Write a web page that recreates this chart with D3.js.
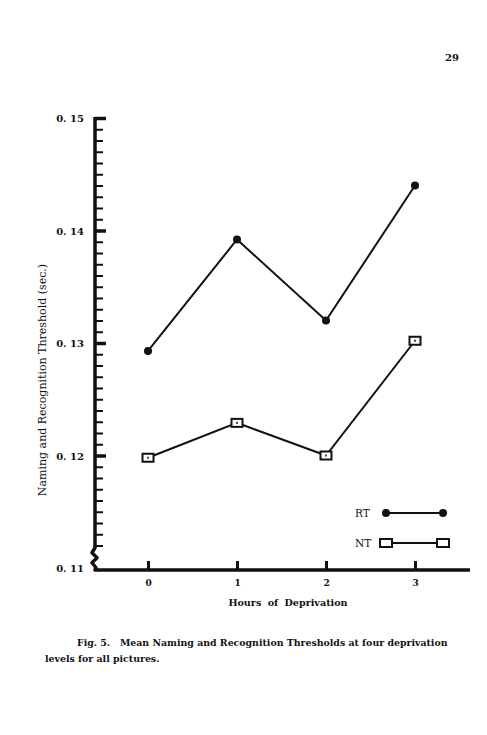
<!DOCTYPE html>
<meta charset="utf-8">
<style>
body { margin: 0; background: white; }
text { font-family: "DejaVu Serif", "Liberation Serif", serif; fill: #111; }
.lbl { font-weight: bold; font-size: 10px; }
</style>
<body>
<script src="https://d3js.org/d3.v7.min.js"></script>
<script>
// data
var hours = [0, 1, 2, 3];
var rtValues = [0.1293, 0.1392, 0.1320, 0.1440];
var ntValues = [0.1198, 0.1229, 0.1200, 0.1302];
var yMajor = [0.11, 0.12, 0.13, 0.14, 0.15];
var yLabels = ["0. 11", "0. 12", "0. 13", "0. 14", "0. 15"];

var width = 487, height = 735;
var axisX = 95, axisY = 570;

var svg = d3.select("body").append("svg")
    .attr("width", width)
    .attr("height", height);

var x = d3.scaleLinear().domain([0, 3]).range([148, 415]);
var y = d3.scaleLinear().domain([0.11, 0.15]).range([568, 118]);

// page number
svg.append("text").attr("x", 452).attr("y", 61)
    .attr("text-anchor", "middle").attr("class", "lbl").text("29");

// y axis line with break near the bottom
var yBreak = y(0.1118);
svg.append("path")
    .attr("d", "M" + axisX + "," + (y(0.15) - 1) + "L" + axisX + "," + yBreak +
      "L" + (axisX - 3) + "," + (yBreak + 5) + "L" + (axisX + 2) + "," + (yBreak + 10) +
      "L" + (axisX - 3) + "," + (yBreak + 15) + "L" + (axisX + 1) + "," + (yBreak + 20) +
      "L" + axisX + "," + axisY + "L470," + axisY)
    .attr("fill", "none").attr("stroke", "#111").attr("stroke-width", 3.5)
    .attr("stroke-linejoin", "round");

// minor ticks
var minor = d3.range(112, 150).map(function(d) { return d / 1000; })
    .filter(function(d) { return yMajor.indexOf(d) < 0; });
svg.append("g").attr("transform", "translate(" + axisX + ",0)")
    .call(d3.axisRight(y).tickValues(minor).tickSize(8).tickFormat(""))
    .call(function(g) { g.select(".domain").remove(); })
    .selectAll("line").attr("stroke", "#111").attr("stroke-width", 2);

// major ticks
svg.append("g").attr("transform", "translate(" + axisX + ",0)")
    .call(d3.axisRight(y).tickValues(yMajor.slice(1)).tickSize(11).tickFormat(""))
    .call(function(g) { g.select(".domain").remove(); })
    .selectAll("line").attr("stroke", "#111").attr("stroke-width", 3.5);

svg.selectAll(".ylab").data(yMajor).enter().append("text")
    .attr("class", "lbl")
    .attr("x", 84).attr("y", function(d) { return y(d) + 4; })
    .attr("text-anchor", "end")
    .text(function(d, i) { return yLabels[i]; });

// x axis ticks
svg.append("g").attr("transform", "translate(0," + axisY + ")")
    .call(d3.axisBottom(x).tickValues(hours).tickSize(-9).tickPadding(10).tickFormat(d3.format("d")))
    .call(function(g) { g.select(".domain").remove(); })
    .call(function(g) {
      g.selectAll("line").attr("stroke", "#111").attr("stroke-width", 3);
      g.selectAll("text").attr("class", "lbl").style("font-size", "9px")
        .style("font-family", "'DejaVu Serif', serif");
    });

// axis titles
svg.append("text")
    .attr("transform", "translate(46,380) rotate(-90)")
    .attr("text-anchor", "middle").style("font-size", "11px")
    .text("Naming and Recognition Threshold (sec.)");
svg.append("text").attr("class", "lbl")
    .attr("x", 288).attr("y", 606).attr("text-anchor", "middle")
    .style("word-spacing", "3px").style("font-size", "9.6px")
    .text("Hours of Deprivation");

// lines
var line = d3.line()
    .x(function(d, i) { return x(hours[i]); })
    .y(function(d) { return y(d); });

svg.append("path").datum(rtValues).attr("d", line)
    .attr("fill", "none").attr("stroke", "#111").attr("stroke-width", 2);
svg.append("path").datum(ntValues).attr("d", line)
    .attr("fill", "none").attr("stroke", "#111").attr("stroke-width", 2);

svg.selectAll(".rt").data(rtValues).enter().append("circle")
    .attr("cx", function(d, i) { return x(hours[i]); })
    .attr("cy", function(d) { return y(d); })
    .attr("r", 4).attr("fill", "#111");

function square(g, cx, cy) {
  g.append("rect").attr("x", cx - 5.5).attr("y", cy - 4)
    .attr("width", 11).attr("height", 8)
    .attr("fill", "white").attr("stroke", "#111").attr("stroke-width", 2);
  g.append("rect").attr("x", cx - 1).attr("y", cy - 1).attr("width", 2).attr("height", 2)
    .attr("fill", "#444");
}
ntValues.forEach(function(d, i) { square(svg, x(hours[i]), y(d)); });

// legend
var legY1 = 513, legY2 = 543;
svg.append("text").attr("x", 355).attr("y", legY1 + 4)
    .style("font-size", "10.5px").text("RT");
svg.append("line").attr("x1", 386).attr("x2", 443).attr("y1", legY1).attr("y2", legY1)
    .attr("stroke", "#111").attr("stroke-width", 2);
[386, 443].forEach(function(cx) {
  svg.append("circle").attr("cx", cx).attr("cy", legY1).attr("r", 4).attr("fill", "#111");
});
svg.append("text").attr("x", 355).attr("y", legY2 + 4)
    .style("font-size", "10.5px").text("NT");
svg.append("line").attr("x1", 386).attr("x2", 443).attr("y1", legY2).attr("y2", legY2)
    .attr("stroke", "#111").attr("stroke-width", 2);
[386, 443].forEach(function(cx) {
  svg.append("rect").attr("x", cx - 6).attr("y", legY2 - 4).attr("width", 12).attr("height", 8)
    .attr("fill", "white").attr("stroke", "#111").attr("stroke-width", 2);
});

// caption
svg.append("text").attr("class", "lbl").attr("x", 77).attr("y", 646)
    .style("font-size", "9.4px").attr("xml:space", "preserve")
    .text("Fig. 5.   Mean Naming and Recognition Thresholds at four deprivation");
svg.append("text").attr("class", "lbl").attr("x", 45).attr("y", 662)
    .style("font-size", "9.4px")
    .text("levels for all pictures.");
</script>
</body>
